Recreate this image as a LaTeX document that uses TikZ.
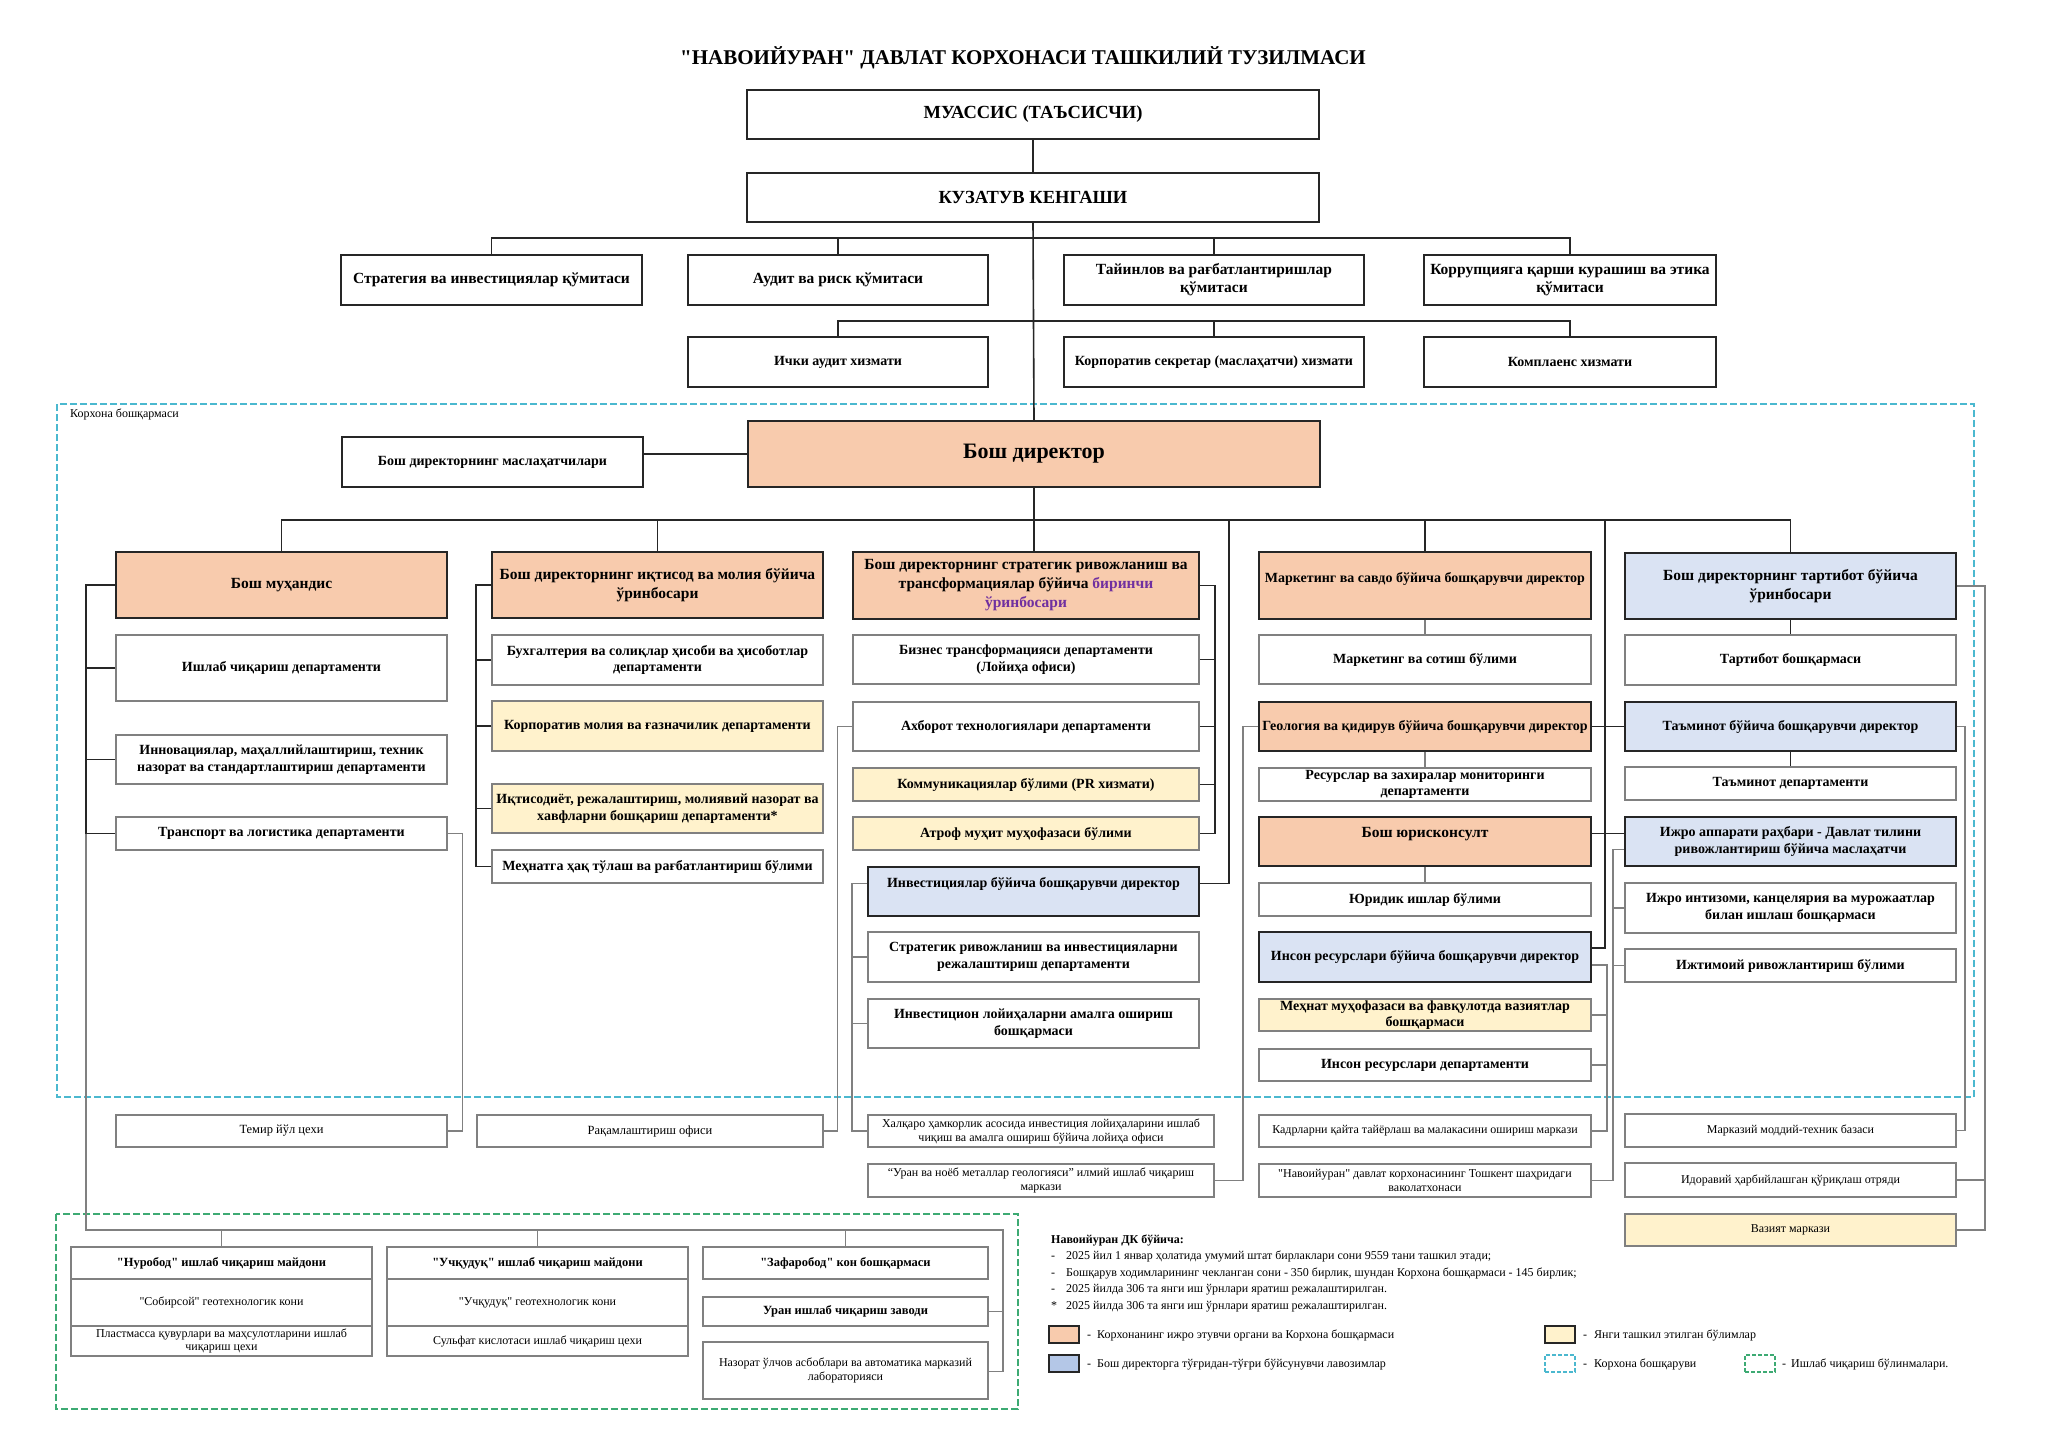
\documentclass[tikz,border=0pt]{standalone}
\usepackage{fontspec}
\setmainfont{Liberation Serif}[Ligatures=TeXOff]
\newcommand\dq{"}
\definecolor{orf}{HTML}{F8CBAD}
\definecolor{blf}{HTML}{DAE3F3}
\definecolor{blleg}{HTML}{B4C7E7}
\definecolor{ylf}{HTML}{FFF2CC}
\definecolor{dk}{HTML}{262626}
\definecolor{gr}{HTML}{808080}
\definecolor{cyb}{HTML}{4BB8CF}
\definecolor{grb}{HTML}{3DAA73}
\definecolor{pur}{HTML}{7030A0}
\newcommand\obox[7]{%
  \pgfmathsetmacro\oboxw{#4-#2}%
  \pgfmathsetmacro\oboxh{#5-#3}%
  \pgfmathsetmacro\oboxcx{(#2+#4)/2}%
  \pgfmathsetmacro\oboxcy{(#3+#5)/2}%
  \node[box,#6,minimum width=\oboxw pt,minimum height=\oboxh pt] (#1) at (\oboxcx,\oboxcy) {#7};}
\begin{document}
\begin{tikzpicture}[x=1pt,y=-1pt,
  box/.style={rectangle, inner sep=1pt, align=center, fill=white},
  maj/.style={draw=dk, line width=1.8pt},
  com/.style={draw=dk, line width=1.5pt},
  dep/.style={draw=gr, line width=1.4pt},
  low/.style={draw=gr, line width=1.2pt},
  orbox/.style={fill=orf}, blbox/.style={fill=blf}, ylbox/.style={fill=ylf},
  fT/.style={font=\fontsize{18.5}{22}\selectfont\bfseries},
  fC/.style={font=\fontsize{15.5}{18}\selectfont\bfseries},
  fDp/.style={font=\fontsize{15.5}{19}\selectfont\bfseries},
  fD/.style={font=\fontsize{14}{16.5}\selectfont\bfseries},
  fR/.style={font=\fontsize{12.5}{14.5}\selectfont},
  fB/.style={font=\fontsize{12.5}{14.5}\selectfont\bfseries},
  fS/.style={font=\fontsize{12}{14}\selectfont},
  conn/.style={draw=dk, line width=1.6pt},
  gconn/.style={draw=gr, line width=1.3pt},
  legsq/.style={rectangle, minimum width=30pt, minimum height=17pt, inner sep=0pt, draw=dk, line width=1.4pt},
  legtx/.style={anchor=west, inner sep=0pt, font=\fontsize{12}{14}\selectfont}
]
\useasboundingbox[fill=white] (0,0) rectangle (2048,1448);

% regions
\draw[cyb, line width=1.5pt, dash pattern=on 7pt off 3pt] (57,404) rectangle (1974,1097);
\draw[grb, line width=1.5pt, dash pattern=on 7pt off 3pt] (56,1214) rectangle (1018,1409);
\node[legtx] (klabel) at (70,414) {Корхона бошқармаси};

% title
\node[font=\fontsize{21}{24}\selectfont\bfseries] (title) at (1023,58) {\dq НАВОИЙУРАН\dq{} ДАВЛАТ КОРХОНАСИ ТАШКИЛИЙ ТУЗИЛМАСИ};

% top
\obox{muassis}{747}{90}{1319}{139}{maj,fT}{МУАССИС (ТАЪСИСЧИ)}
\obox{kengash}{747}{173}{1319}{222}{maj,fT}{КУЗАТУВ КЕНГАШИ}
\obox{strat}{341}{255}{642}{305}{com,fC}{Стратегия ва инвестициялар қўмитаси}
\obox{audit}{688}{255}{988}{305}{com,fC}{Аудит ва риск қўмитаси}
\obox{tayin}{1064}{255}{1364}{305}{com,fC}{Тайинлов ва рағбатлантиришлар\\қўмитаси}
\obox{korr}{1424}{255}{1716}{305}{com,fC}{Коррупцияга қарши курашиш ва этика\\қўмитаси}
\obox{ichki}{688}{337}{988}{387}{com,fD}{Ички аудит хизмати}
\obox{kotib}{1064}{337}{1364}{387}{com,fD}{Корпоратив секретар (маслаҳатчи) хизмати}
\obox{kompl}{1424}{337}{1716}{387}{com,fD}{Комплаенс хизмати}
\obox{masl}{342}{437}{643}{487}{com,fD}{Бош директорнинг маслаҳатчилари}
\obox{BD}{748}{421}{1320}{487}{maj,orbox,font=\fontsize{22}{26}\selectfont\bfseries}{Бош директор}

% column 1
\obox{muh}{116}{552}{447}{618}{maj,orbox,fDp}{Бош муҳандис}
\obox{ishlab}{116}{635}{447}{701}{dep,fD}{Ишлаб чиқариш департаменти}
\obox{innov}{116}{735}{447}{784}{dep,fD}{Инновациялар, маҳаллийлаштириш, техник\\назорат ва стандартлаштириш департаменти}
\obox{transp}{116}{817}{447}{850}{dep,fD}{Транспорт ва логистика департаменти}
\obox{temir}{116}{1115}{447}{1147}{low,fR}{Темир йўл цехи}

% column 2
\obox{iqt}{492}{552}{823}{618}{maj,orbox,fDp}{Бош директорнинг иқтисод ва молия бўйича\\ўринбосари}
\obox{bux}{492}{635}{823}{685}{dep,fD}{Бухгалтерия ва солиқлар ҳисоби ва ҳисоботлар\\департаменти}
\obox{kmol}{492}{701}{823}{751}{dep,ylbox,fD}{Корпоратив молия ва ғазначилик департаменти}
\obox{iqtd}{492}{784}{823}{833}{dep,ylbox,fD}{Иқтисодиёт, режалаштириш, молиявий назорат ва\\хавфларни бошқариш департаменти*}
\obox{mehn}{492}{850}{823}{883}{dep,fD}{Меҳнатга ҳақ тўлаш ва рағбатлантириш бўлими}
\obox{raqam}{477}{1115}{823}{1147}{low,fR}{Рақамлаштириш офиси}

% column 3
\obox{strd}{853}{552}{1199}{619}{maj,orbox,fDp}{Бош директорнинг стратегик ривожланиш ва\\трансформациялар бўйича \textcolor{pur}{биринчи}\\\textcolor{pur}{ўринбосари}}
\obox{biz}{853}{635}{1199}{684}{dep,fD}{Бизнес трансформацияси департаменти\\(Лойиҳа офиси)}
\obox{axb}{853}{702}{1199}{751}{dep,fD}{Ахборот технологиялари департаменти}
\obox{komm}{853}{768}{1199}{801}{dep,ylbox,fD}{Коммуникациялар бўлими (PR хизмати)}
\obox{atrof}{853}{817}{1199}{850}{dep,ylbox,fD}{Атроф муҳит муҳофазаси бўлими}
\obox{inv}{868}{867}{1199}{916}{maj,blbox}{}
\node[fD] (invT) at ([yshift=8pt]inv.center) {Инвестициялар бўйича бошқарувчи директор};
\obox{sriv}{868}{932}{1199}{982}{dep,fD}{Стратегик ривожланиш ва инвестицияларни\\режалаштириш департаменти}
\obox{invl}{868}{999}{1199}{1048}{dep,fD}{Инвестицион лойиҳаларни амалга ошириш\\бошқармаси}
\obox{xalq}{868}{1115}{1214}{1147}{low,fS}{Халқаро ҳамкорлик асосида инвестиция лойиҳаларини ишлаб\\чиқиш ва амалга ошириш бўйича лойиҳа офиси}
\obox{uran}{868}{1164}{1214}{1197}{low,fS}{“Уран ва ноёб металлар геологияси” илмий ишлаб чиқариш\\маркази}

% column 4
\obox{mark}{1259}{552}{1591}{619}{maj,orbox}{}
\node[fD] (markT) at ([yshift=7pt]mark.center) {Маркетинг ва савдо бўйича бошқарувчи директор};
\obox{sot}{1259}{635}{1591}{684}{dep,fD}{Маркетинг ва сотиш бўлими}
\obox{geo}{1259}{702}{1591}{751}{maj,orbox,fD}{Геология ва қидирув бўйича бошқарувчи директор}
\obox{res}{1259}{768}{1591}{801}{dep,fD}{Ресурслар ва захиралар мониторинги\\департаменти}
\obox{yur}{1259}{817}{1591}{866}{maj,orbox}{}
\node[fDp] (yurT) at ([yshift=7pt]yur.center) {Бош юрисконсулт};
\obox{yuri}{1259}{883}{1591}{916}{dep,fD}{Юридик ишлар бўлими}
\obox{insd}{1259}{932}{1591}{982}{maj,blbox,fD}{Инсон ресурслари бўйича бошқарувчи директор}
\obox{mehm}{1259}{999}{1591}{1031}{dep,ylbox,fD}{Меҳнат муҳофазаси ва фавқулотда вазиятлар\\бошқармаси}
\obox{insdep}{1259}{1049}{1591}{1081}{dep,fD}{Инсон ресурслари департаменти}
\obox{kadr}{1259}{1115}{1591}{1147}{low,fS}{Кадрларни қайта тайёрлаш ва малакасини ошириш маркази}
\obox{tosh}{1259}{1164}{1591}{1197}{low,fS}{\dq Навоийуран\dq{} давлат корхонасининг Тошкент шаҳридаги\\ваколатхонаси}

% column 5
\obox{tart}{1625}{553}{1956}{619}{maj,blbox,fDp}{Бош директорнинг тартибот бўйича\\ўринбосари}
\obox{tartb}{1625}{635}{1956}{685}{dep,fD}{Тартибот бошқармаси}
\obox{tam}{1625}{702}{1956}{751}{maj,blbox,fD}{Таъминот бўйича бошқарувчи директор}
\obox{tamd}{1625}{767}{1956}{800}{dep,fD}{Таъминот департаменти}
\obox{ijro}{1625}{817}{1956}{866}{maj,blbox,fD}{Ижро аппарати раҳбари - Давлат тилини\\ривожлантириш бўйича маслаҳатчи}
\obox{ijint}{1625}{883}{1956}{933}{dep,fD}{Ижро интизоми, канцелярия ва мурожаатлар\\билан ишлаш бошқармаси}
\obox{ijt}{1625}{949}{1956}{982}{dep,fD}{Ижтимоий ривожлантириш бўлими}
\obox{mmb}{1625}{1114}{1956}{1147}{low,fS}{Марказий моддий-техник базаси}
\obox{idor}{1625}{1163}{1956}{1197}{low,fS}{Идоравий ҳарбийлашган қўриқлаш отряди}
\obox{vaz}{1625}{1214}{1956}{1246}{low,ylbox,fS}{Вазият маркази}

% production units
\obox{nur}{71}{1247}{372}{1279}{low,fB}{\dq Нуробод\dq{} ишлаб чиқариш майдони}
\obox{sob}{71}{1279}{372}{1326}{low,fS}{\dq Собирсой\dq{} геотехнологик кони}
\obox{plast}{71}{1326}{372}{1356}{low,font=\fontsize{12}{13.5}\selectfont}{Пластмасса қувурлари ва маҳсулотларини ишлаб\\чиқариш цехи}
\obox{uch}{387}{1247}{688}{1279}{low,fB}{\dq Учқудуқ\dq{} ишлаб чиқариш майдони}
\obox{uchk}{387}{1279}{688}{1326}{low,fS}{\dq Учқудуқ\dq{} геотехнологик кони}
\obox{sulf}{387}{1326}{688}{1356}{low,fS}{Сульфат кислотаси ишлаб чиқариш цехи}
\obox{zaf}{703}{1247}{988}{1279}{low,fB}{\dq Зафаробод\dq{} кон бошқармаси}
\obox{uzav}{703}{1297}{988}{1326}{low,fB}{Уран ишлаб чиқариш заводи}
\obox{naz}{703}{1342}{988}{1399}{low,fS}{Назорат ўлчов асбоблари ва автоматика марказий\\лабораторияси}

% ---------- connectors ----------
\coordinate (cbar) at (0,238);
\coordinate (sbar) at (0,321);
\coordinate (mbar) at (0,520);
\coordinate (gbar) at (0,1230);
\coordinate (lb) at (86,0);
\coordinate (gx) at (1003,0);
\coordinate (v1229) at (1229,520);
\coordinate (v1605) at (1605,520);

\draw[conn] (muassis.south) -- (kengash.north);
\draw[conn] (kengash.south) -- (BD.north);
\draw[conn] (strat.north) |- (cbar -| korr.north) -- (korr.north);
\draw[conn] (audit.north) -- (audit.north |- cbar);
\draw[conn] (tayin.north) -- (tayin.north |- cbar);
\draw[conn] (ichki.north) |- (sbar -| kompl.north) -- (kompl.north);
\draw[conn] (kotib.north) -- (kotib.north |- sbar);
\draw[conn] (BD.west) -- (BD.west -| masl.east);

\draw[conn] (muh.north) |- (mbar -| tart.north) -- (tart.north);
\draw[conn] (iqt.north) -- (iqt.north |- mbar);
\draw[conn] (BD.south) -- (BD.south |- strd.north);
\draw[conn] (mark.north) -- (mark.north |- mbar);
\draw[conn] (v1229) |- ([yshift=8pt]inv.east);
\draw[conn] (v1605) |- ([yshift=9pt]insd.east);
\draw[conn] (geo.east) -- (tam.west);
\draw[conn] ([yshift=8pt]yur.east) -- ([yshift=8pt]ijro.west);

% column 1
\draw[conn] (muh.west) -| (lb |- transp.west) -- (transp.west);
\draw[conn] (ishlab.west) -- (ishlab.west -| lb);
\draw[conn] (innov.west) -- (innov.west -| lb);
\draw[gconn] (lb |- transp.west) |- (gbar -| gx) |- ([yshift=-1pt]naz.east);
\draw[gconn] (uzav.east) -- (uzav.east -| gx);
\draw[gconn] (nur.north) -- (nur.north |- gbar);
\draw[gconn] (uch.north) -- (uch.north |- gbar);
\draw[gconn] (zaf.north) -- (zaf.north |- gbar);
\draw[gconn] (transp.east) -- ++(15,0) |- (temir.east);

% column 2
\draw[conn] (iqt.west) -- ++(-15,0) |- (mehn.west);
\foreach \n in {bux,kmol,iqtd} \draw[conn] (\n.west) -- ++(-15,0);
\draw[gconn] (axb.west) -- ++(-15,0) |- (raqam.east);

% column 3
\draw[conn] (strd.east) -- ++(15,0) |- (atrof.east);
\foreach \n in {biz,axb,komm} \draw[conn] (\n.east) -- ++(15,0);
\draw[gconn] ([yshift=8pt]inv.west) -- ++(-15,0) |- (xalq.west);
\foreach \n in {sriv,invl} \draw[gconn] (\n.west) -- ++(-15,0);
\draw[gconn] (geo.west) -- ++(-15,0) |- (uran.east);

% column 4
\draw[gconn] (mark.south) -- (sot.north);
\draw[gconn] (geo.south) -- (res.north);
\draw[gconn] (yur.south) -- (yuri.north);
\draw[gconn] ([yshift=-8pt]insd.east) -- ++(15,0) |- (kadr.east);
\foreach \n in {mehm,insdep} \draw[gconn] (\n.east) -- ++(15,0);
\draw[gconn] ([yshift=-8pt]ijro.west) -- ++(-11,0) |- (tosh.east);
\foreach \n in {ijint,ijt} \draw[gconn] (\n.west) -- ++(-11,0);

% column 5
\draw[conn] (tart.south) -- (tartb.north);
\draw[conn] (tam.south) -- (tamd.north);
\draw[gconn] (tam.east) -- ++(8,0) |- (mmb.east);
\draw[gconn] (tart.east) -- ++(28,0) |- (vaz.east);
\draw[gconn] (idor.east) -- ++(28,0);

% ---------- legend ----------
\node[legtx, font=\fontsize{12}{14}\selectfont\bfseries] (lhead) at (1051,1240) {Навоийуран ДК бўйича:};
\node[legtx] (l1) at (1051,1256) {\makebox[15pt][l]{-}2025 йил 1 январ ҳолатида умумий штат бирлаклари сони 9559 тани ташкил этади;};
\node[legtx] (l2) at (1051,1273) {\makebox[15pt][l]{-}Бошқарув ходимларининг чекланган сони - 350 бирлик, шундан Корхона бошқармаси - 145 бирлик;};
\node[legtx] (l3) at (1051,1290) {\makebox[15pt][l]{-}2025 йилда 306 та янги иш ўрнлари яратиш режалаштирилган.};
\node[legtx] (l4) at (1051,1307) {\makebox[15pt][l]{*}2025 йилда 306 та янги иш ўрнлари яратиш режалаштирилган.};

\node[legsq, fill=orf] (sq1) at (1064,1334.5) {};
\node[legtx] (t1) at (1087,1335) {\makebox[10pt][l]{-}Корхонанинг ижро этувчи органи ва Корхона бошқармаси};
\node[legsq, fill=blleg] (sq2) at (1064,1363.5) {};
\node[legtx] (t2) at (1087,1364) {\makebox[10pt][l]{-}Бош директорга тўғридан-тўғри бўйсунувчи лавозимлар};
\node[legsq, fill=ylf] (sq3) at (1560,1334.5) {};
\node[legtx] (t3) at (1583,1335) {\makebox[11pt][l]{-}Янги ташкил этилган бўлимлар};
\node[legsq, draw=cyb, dash pattern=on 4pt off 2pt] (sq4) at (1560,1363.5) {};
\node[legtx] (t4) at (1583,1364) {\makebox[11pt][l]{-}Корхона бошқаруви};
\node[legsq, draw=grb, dash pattern=on 4pt off 2pt] (sq5) at (1760,1363.5) {};
\node[legtx] (t5) at (1782,1364) {\makebox[9pt][l]{-}Ишлаб чиқариш бўлинмалари.};
\end{tikzpicture}
\end{document}
